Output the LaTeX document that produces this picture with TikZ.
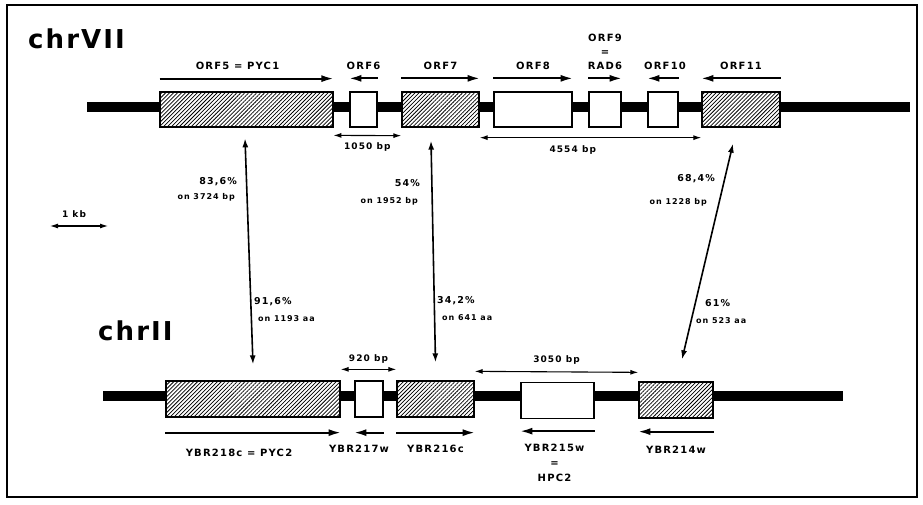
\documentclass[tikz,border=0pt]{standalone}
\usepackage{fontspec}
\setmainfont{DejaVu Sans}
\newfontfamily\lblfont[LetterSpace=12]{DejaVu Sans}
\newfontfamily\chrfont[LetterSpace=8]{DejaVu Sans}
\usepackage{tikz}
\usetikzlibrary{positioning,arrows.meta,patterns.meta}

\begin{document}
\begin{tikzpicture}[x=1pt,y=-1pt,
    hatchbox/.style={draw, line width=1.3pt, inner sep=0pt, minimum height=35pt,
      preaction={fill=white}, pattern={Lines[angle=45,distance=2.8pt,line width=0.75pt]}},
    plainbox/.style={draw, line width=1.3pt, inner sep=0pt, minimum height=35pt, fill=white},
    chrom/.style={line width=9.5pt},
    gene/.style={line width=1.8pt, -{Latex[length=12pt,width=7pt]}},
    dimarrow/.style={line width=1.1pt, {Latex[length=8pt,width=5pt]}-{Latex[length=8pt,width=5pt]}},
    homol/.style={line width=1.6pt, {Latex[length=9pt,width=6pt]}-{Latex[length=9pt,width=6pt]}},
    lbl/.style={inner sep=0pt, align=center, font=\lblfont\bfseries\fontsize{10}{12}\selectfont},
    pctlbl/.style={inner sep=0pt, font=\lblfont\bfseries\fontsize{9.5}{12}\selectfont},
    onlbl/.style={inner sep=0pt, font=\lblfont\bfseries\fontsize{8}{10}\selectfont},
    dimlbl/.style={inner sep=0pt, font=\lblfont\bfseries\fontsize{9}{11}\selectfont},
    chrlbl/.style={inner sep=0pt, anchor=base west, font=\chrfont\bfseries\fontsize{26}{31}\selectfont}]

  \useasboundingbox (0,0) rectangle (923,504);
  \draw[line width=1.5pt] (7,5) rectangle (917,497);

  % chromosome VII
  \node[chrlbl] (chr7) at (28,48) {chrVII};
  \coordinate (c7l) at (87,107);
  \coordinate (c7r) at (910,107);
  \draw[chrom] (c7l) -- (c7r);
  \node[hatchbox, minimum width=173pt] (orf5) at (246.5,109.5) {};
  \node[plainbox, minimum width=27pt] (orf6) at (363.5,109.5) {};
  \node[hatchbox, minimum width=77pt] (orf7) at (440.5,109.5) {};
  \node[plainbox, minimum width=78pt] (orf8) at (533,109.5) {};
  \node[plainbox, minimum width=32pt] (orf9) at (605,109.5) {};
  \node[plainbox, minimum width=30pt] (orf10) at (663,109.5) {};
  \node[hatchbox, minimum width=78pt] (orf11) at (741,109.5) {};

  % reading directions
  \draw[gene] ([yshift=13pt]orf5.north west) -- ([yshift=13pt]orf5.north east);
  \draw[gene] ([yshift=13pt]orf6.north east) -- ([yshift=13pt]orf6.north west);
  \draw[gene] ([yshift=13pt]orf7.north west) -- ([yshift=13pt]orf7.north east);
  \draw[gene] ([yshift=13pt]orf8.north west) -- ([yshift=13pt]orf8.north east);
  \draw[gene] ([yshift=13pt]orf9.north west) -- ([yshift=13pt]orf9.north east);
  \draw[gene] ([yshift=13pt]orf10.north east) -- ([yshift=13pt]orf10.north west);
  \draw[gene] ([yshift=13pt]orf11.north east) -- ([yshift=13pt]orf11.north west);

  \node[lbl, anchor=south] (l5) at ([xshift=-9pt,yshift=22pt]orf5.north) {ORF5 = PYC1};
  \node[lbl, anchor=south] (l6) at ([yshift=22pt]orf6.north) {ORF6};
  \node[lbl, anchor=south] (l7) at ([yshift=22pt]orf7.north) {ORF7};
  \node[lbl, anchor=south] (l8) at ([yshift=22pt]orf8.north) {ORF8};
  \node[lbl, anchor=south] (l9) at ([yshift=22pt]orf9.north) {ORF9\\[2pt]=\\[2pt]RAD6};
  \node[lbl, anchor=south] (l10) at ([xshift=2pt,yshift=22pt]orf10.north) {ORF10};
  \node[lbl, anchor=south] (l11) at ([yshift=22pt]orf11.north) {ORF11};

  \draw[dimarrow] ([yshift=-8pt]orf5.south east) -- ([yshift=-8pt]orf7.south west)
    node[dimlbl, midway, below=7pt] (d1050) {1050 bp};
  \draw[dimarrow] ([yshift=-10pt]orf7.south east) -- ([yshift=-10pt]orf11.south west)
    node[dimlbl, pos=0.42, below=7pt] (d4554) {4554 bp};

  % chromosome II
  \node[chrlbl] (chr2) at (98,340) {chrII};
  \coordinate (c2l) at (103,396);
  \coordinate (c2r) at (843,396);
  \draw[chrom] (c2l) -- (c2r);
  \node[hatchbox, minimum width=174pt, minimum height=36pt] (ybr218) at (253,399) {};
  \node[plainbox, minimum width=28pt, minimum height=36pt] (ybr217) at (369,399) {};
  \node[hatchbox, minimum width=77pt, minimum height=36pt] (ybr216) at (435.5,399) {};
  \node[plainbox, minimum width=73pt, minimum height=36pt] (ybr215) at (557.5,400.5) {};
  \node[hatchbox, minimum width=74pt, minimum height=36pt] (ybr214) at (676,400) {};

  \draw[gene] ([yshift=-15pt]ybr218.south west) -- ([yshift=-15pt]ybr218.south east);
  \draw[gene] ([yshift=-15pt]ybr217.south east) -- ([yshift=-15pt]ybr217.south west);
  \draw[gene] ([yshift=-15pt]ybr216.south west) -- ([yshift=-15pt]ybr216.south east);
  \draw[gene] ([yshift=-12pt]ybr215.south east) -- ([yshift=-12pt]ybr215.south west);
  \draw[gene] ([yshift=-13pt]ybr214.south east) -- ([yshift=-13pt]ybr214.south west);

  \node[lbl, anchor=north] (m218) at ([xshift=-14pt,yshift=-31pt]ybr218.south) {YBR218c = PYC2};
  \node[lbl, anchor=north] (m217) at ([xshift=-10pt,yshift=-27pt]ybr217.south) {YBR217w};
  \node[lbl, anchor=north] (m216) at ([yshift=-27pt]ybr216.south) {YBR216c};
  \node[lbl, anchor=north] (m215) at ([xshift=-3pt,yshift=-25pt]ybr215.south) {YBR215w\\[3pt]=\\[3pt]HPC2};
  \node[lbl, anchor=north] (m214) at ([yshift=-27pt]ybr214.south) {YBR214w};

  \draw[dimarrow] ([yshift=11pt]ybr218.north east) -- ([yshift=11pt]ybr216.north west)
    node[dimlbl, midway, above=5pt] (d920) {920 bp};
  \draw[dimarrow] ([yshift=9pt]ybr216.north east) -- ([yshift=9pt]ybr214.north west)
    node[dimlbl, midway, above=7pt] (d3050) {3050 bp};

  % scale bar
  \coordinate (kb0) at (50,226);
  \coordinate (kb1) at (108,226);
  \draw[dimarrow] (kb0) -- (kb1) node[dimlbl, midway, above=8pt, xshift=-5pt] (kb) {1 kb};

  % homologies
  \coordinate (u5) at ([xshift=-1.5pt,yshift=-11pt]orf5.south);
  \coordinate (v218) at ([yshift=16pt]ybr218.north);
  \draw[homol] (u5) -- (v218);
  \coordinate (u7) at ([xshift=-9.5pt,yshift=-13pt]orf7.south);
  \coordinate (v216) at ([yshift=18pt]ybr216.north);
  \draw[homol] (u7) -- (v216);
  \coordinate (u11) at ([xshift=-8pt,yshift=-16pt]orf11.south);
  \coordinate (v214) at ([xshift=6pt,yshift=22pt]ybr214.north);
  \draw[homol] (u11) -- (v214);

  \node[pctlbl, anchor=east] (h1a) at (237,182) {83,6\%};
  \node[onlbl, anchor=east] (h1b) at (235,197) {on 3724 bp};
  \node[pctlbl, anchor=west] (h1c) at (254,302) {91,6\%};
  \node[onlbl, anchor=west] (h1d) at (258,319) {on 1193 aa};
  \node[pctlbl, anchor=east] (h2a) at (420,183) {54\%};
  \node[onlbl, anchor=east] (h2b) at (418,201) {on 1952 bp};
  \node[pctlbl, anchor=west] (h2c) at (437,301) {34,2\%};
  \node[onlbl, anchor=west] (h2d) at (442,318) {on 641 aa};
  \node[pctlbl, anchor=east] (h3a) at (715,179) {68,4\%};
  \node[onlbl, anchor=east] (h3b) at (707,202) {on 1228 bp};
  \node[pctlbl, anchor=west] (h3c) at (705,303) {61\%};
  \node[onlbl, anchor=west] (h3d) at (696,321) {on 523 aa};
\end{tikzpicture}
\end{document}
